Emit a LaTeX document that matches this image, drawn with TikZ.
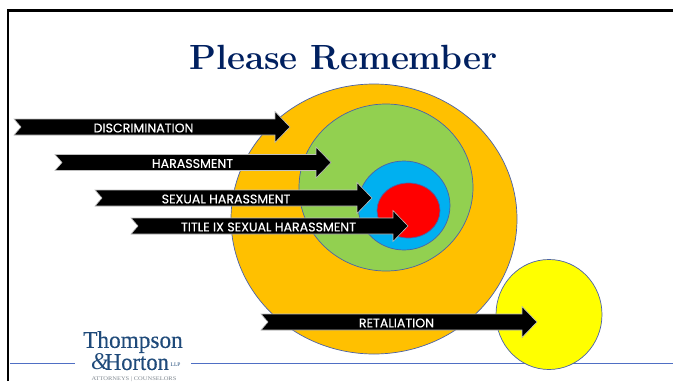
\documentclass[tikz,border=0pt]{standalone}
\usepackage{fontspec}
\newfontfamily\arrowfont[FakeBold=0.35]{Poppins}
\newfontfamily\logofont[FakeBold=0.3]{Liberation Serif}
\newfontfamily\logofontlight{Liberation Serif}
\definecolor{navy}{HTML}{002060}
\definecolor{ringline}{HTML}{4A62A8}
\definecolor{rule}{HTML}{4F6FC4}
\definecolor{orangefill}{HTML}{FFC000}
\definecolor{greenfill}{HTML}{92D050}
\definecolor{bluefill}{HTML}{00B0F0}
\definecolor{redfill}{HTML}{FF0000}
\definecolor{yellowfill}{HTML}{FFFF00}
\definecolor{logoblue}{HTML}{1F4A7A}
\definecolor{logogray}{HTML}{808890}
\tikzset{
  ring/.style={draw=ringline,line width=0.7pt},
  blockarrow/.style={fill=black,draw=white!75!black,line width=0.6pt,line join=miter},
  arrowlabel/.style={text=white,font=\arrowfont\fontsize{12.6}{14}\selectfont,inner sep=0pt,anchor=center},
  baseline rule/.style={draw=rule,line width=0.8pt},
  logotext/.style={text=logoblue,inner sep=0pt,anchor=base west}
}
% tail x, centre y, tip x, label centre x, name, label
\newcommand{\bigarrow}[6]{%
  \path[blockarrow] (#1,#2-8) -- (#3-15,#2-8) -- (#3-15,#2-15.5) -- (#3,#2) -- (#3-15,#2+15.5) -- (#3-15,#2+8)
    -- (#1,#2+8) -- (#1+7,#2) -- cycle;
  \node[arrowlabel] (#5) at (#4,#2+1) {#6};
}
\begin{document}
\begin{tikzpicture}[x=1pt,y=-1pt]
\useasboundingbox (0,0) rectangle (673,381);
\fill[white] (0,0) rectangle (673,381);
\draw[black,line width=2.4pt] (8,381) -- (8,10.5) -- (673,10.5);
\node[text=navy,font=\bfseries\fontsize{35}{40}\selectfont,inner sep=0pt] (title) at (343.5,58) {Please Remember};
\draw[baseline rule] (10,363.5) -- (75,363.5);
\draw[baseline rule] (191,363.5) -- (673,363.5);
\filldraw[ring,fill=orangefill] (374,219) ellipse (143 and 135);
\filldraw[ring,fill=yellowfill] (549,314.5) ellipse (53 and 55);
\filldraw[ring,fill=greenfill] (386,187.5) ellipse (87 and 83.5);
\filldraw[ring,fill=bluefill] (404,205.5) ellipse (46 and 44.5);
\filldraw[ring,fill=redfill] (408.5,210.5) ellipse (31.5 and 27.5);
\bigarrow{14}{127}{290}{143.5}{a1}{DISCRIMINATION}
\bigarrow{55}{162.5}{331}{192.5}{a2}{HARASSMENT}
\bigarrow{95}{198}{372}{226}{a3}{SEXUAL HARASSMENT}
\bigarrow{131}{226}{408}{268.5}{a4}{TITLE IX SEXUAL HARASSMENT}
\bigarrow{261}{322}{537}{396.5}{a5}{RETALIATION}
\node[text=logoblue,inner sep=0pt,anchor=north west,align=left,font=\logofont\fontsize{24}{17}\selectfont] (logoa) at (83,331) {\scalebox{0.97}[1]{Thompson}\\\hspace*{8pt}\scalebox{0.94}[1]{\textit{\logofontlight\&}\hspace{-4pt}Horton}};
\node[logotext,font=\logofontlight\fontsize{5.5}{6}\selectfont] (logoc) at (170.5,366) {LLP};
\node[text=logogray,font=\logofontlight\fontsize{5.5}{6}\selectfont,inner sep=0pt] (logod) at (134,379) {\scalebox{1.18}[1]{ATTORNEYS | COUNSELORS}};
\end{tikzpicture}
\end{document}
